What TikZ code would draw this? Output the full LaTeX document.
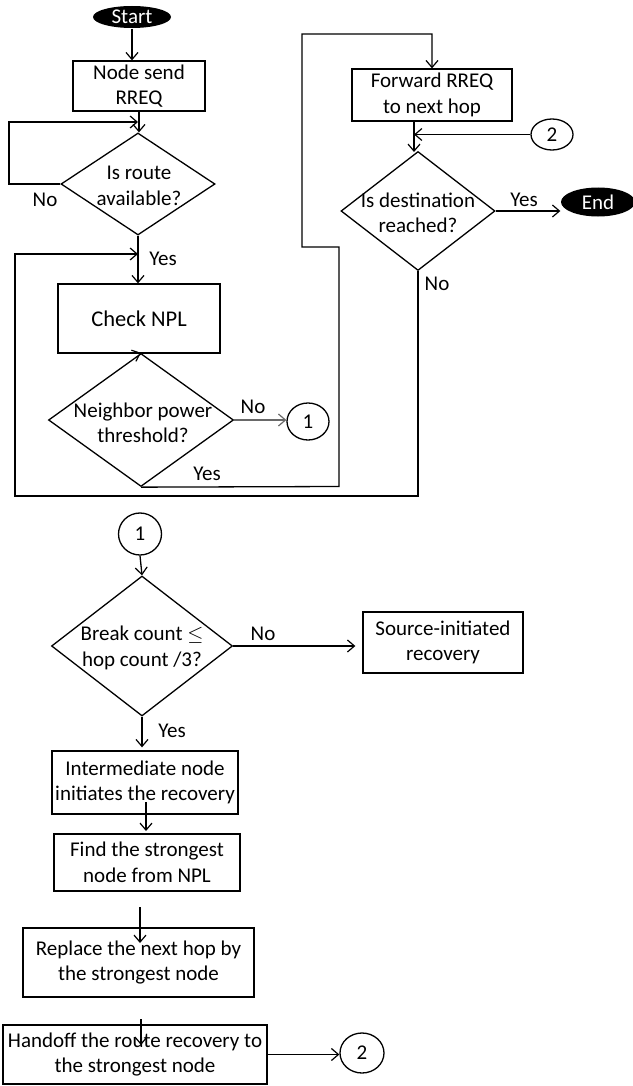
\documentclass[tikz,border=0pt]{standalone}
\usepackage{fontspec}
\setmainfont{Carlito}
\usetikzlibrary{shapes.geometric,arrows.meta,calc}
\begin{document}
\begin{tikzpicture}[x=1pt,y=-1pt, font=\fontsize{21}{25.5}\selectfont, line width=1.3pt,
 box/.style={draw, rectangle, inner sep=0pt, align=center},
 dia/.style={draw, diamond, inner sep=0pt},
 term/.style={ellipse, fill=black, text=white, inner sep=0pt},
 conn/.style={draw, ellipse, inner sep=0pt},
 arr/.style={-{Straight Barb[length=7pt,width=12pt,line width=1.2pt]}},
 lbl/.style={anchor=base, inner sep=0pt},
 txt/.style={align=center, inner sep=0pt}]
\useasboundingbox (0,0) rectangle (632,1086);
% upper part
\node[term, minimum width=78pt, minimum height=22pt] (start) at (132,17) {Start};
\node[box, minimum width=132pt, minimum height=50pt] (send) at (139,86) {Node send\\RREQ};
\node[dia, minimum width=154pt, minimum height=102pt] (route) at (138,184) {};
\node[txt] (routet) at (139,186) {Is route\\available?};
\node[box, minimum width=162pt, minimum height=69pt, font=\fontsize{22.5}{27}\selectfont] (npl) at (139,318.5) {Check NPL};
\node[dia, minimum width=185pt, minimum height=133pt] (nbr) at (141,420) {};
\node[txt] (nbrt) at (143,423) {Neighbor power\\threshold?};
\node[conn, minimum width=42pt, minimum height=37pt] (c1a) at (308,421.5) {1};
\node[box, minimum width=160pt, minimum height=52pt] (fwd) at (432,95) {Forward RREQ\\to next hop};
\node[conn, minimum width=42pt, minimum height=31pt] (c2a) at (552,134.5) {2};
\node[dia, minimum width=154pt, minimum height=119pt] (dest) at (418,211) {};
\node[txt] (destt) at (418,213) {Is destination\\reached?};
\node[term, minimum width=74pt, minimum height=29pt] (end) at (598,202) {End};
% lower part
\node[conn, minimum width=43pt, minimum height=42pt] (c1b) at (140,534) {1};
\node[dia, minimum width=181pt, minimum height=140pt] (brk) at (142,646) {};
\node[txt] (brkt) at (142,648) {Break count $\leq$\\hop count /3?};
\node[box, minimum width=160pt, minimum height=61pt] (src) at (443,642.5) {Source-initiated\\recovery};
\node[box, minimum width=186pt, minimum height=63pt] (inter) at (145,782.5) {Intermediate node\\initiates the recovery};
\node[box, minimum width=186pt, minimum height=57pt] (find) at (147,862.5) {Find the strongest\\node from NPL};
\node[box, minimum width=231pt, minimum height=69pt] (rep) at (138.5,962.5) {Replace the next hop by\\the strongest node};
\node[box, minimum width=264pt, minimum height=59pt] (hand) at (135,1054.5) {Handoff the route recovery to\\the strongest node};
\node[conn, minimum width=44pt, minimum height=40pt] (c2b) at (362,1053) {2};
% labels
\node[lbl] (lno1) at (45,207) {No};
\node[lbl] (lyes1) at (163,265) {Yes};
\node[lbl] (lno2) at (253,413) {No};
\node[lbl] (lyes2) at (207,480) {Yes};
\node[lbl] (lyes3) at (524,206) {Yes};
\node[lbl] (lno3) at (437,290) {No};
\node[lbl] (lno4) at (263,640) {No};
\node[lbl] (lyes4) at (172,737) {Yes};
% coordinates
\coordinate (l1) at (9,184); \coordinate (l2) at (9,122); \coordinate (l3) at (138,122);
\coordinate (o1) at (418,496); \coordinate (o2) at (15,496); \coordinate (o3) at (15,254); \coordinate (o4) at (138,254);
\coordinate (y1) at (339,486.5); \coordinate (y2) at (339,247); \coordinate (y3) at (302,247); \coordinate (y4) at (302,34); \coordinate (y5) at (432,34);
\coordinate (f1) at (414,121); \coordinate (f2) at (414,152); \coordinate (m2) at (414,134.5);
\coordinate (a1s) at (146,802); \coordinate (a1e) at (146,831);
\coordinate (a2s) at (140,907); \coordinate (a2e) at (140,943);
\coordinate (a3s) at (141,1019); \coordinate (a3e) at (141,1045);
% connectors
\draw[arr] (start.south) -- (start.south |- send.north);
\draw[arr] (send.south) -- (send.south |- route.north);
\draw[arr] (route.west) -- (l1) -- (l2) -- (l3);
\draw[arr] (route.south) -- (route.south |- npl.north);
\draw[arr] (npl.south) -- (nbr.north);
\draw[arr, draw={rgb,255:red,105;green,105;blue,105}] (nbr.east) -- (nbr.east -| c1a.west);
\draw[arr] (nbr.south) -- (y1) -- (y2) -- (y3) -- (y4) -- (y5) -- (fwd.north);
\draw[arr] (f1) -- (f2);
\draw[arr] (c2a.west) -- (m2);
\draw[arr] (dest.east) -- (dest.east -| end.west);
\draw[arr] (dest.south) -- (o1) -- (o2) -- (o3) -- (o4);
\draw[arr] (c1b.south) -- (brk.north);
\draw[arr, shorten >=7pt] (brk.east) -- (brk.east -| src.west);
\draw[arr, shorten >=3pt] (brk.south) -- (brk.south |- inter.north);
\draw[arr] (a1s) -- (a1e);
\draw[arr] (a2s) -- (a2e);
\draw[arr] (a3s) -- (a3e);
\draw[arr] (hand.east) -- (hand.east -| c2b.west);
\end{tikzpicture}
\end{document}
